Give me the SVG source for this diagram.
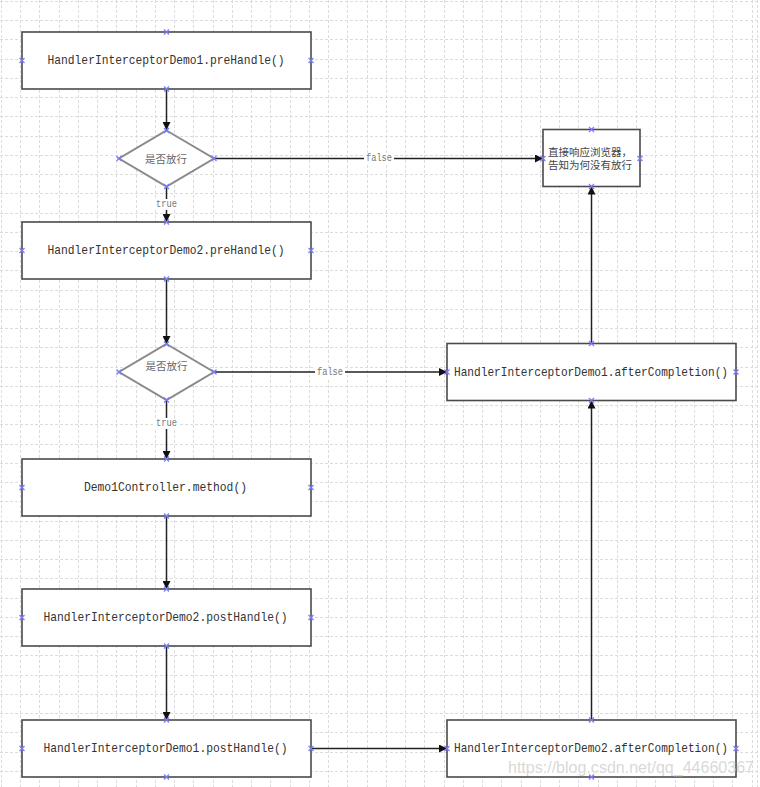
<svg xmlns="http://www.w3.org/2000/svg" width="760" height="787" viewBox="0 0 760 787">
<defs>
<style>
.grid{stroke:#dcdcdc;stroke-width:1;stroke-dasharray:3 2;fill:none}
.box{fill:#ffffff;stroke:#4a4a4a;stroke-width:1.6}
.dia{fill:#ffffff;stroke:#8a8a8a;stroke-width:2}
.txt{font-family:"Liberation Mono",monospace;font-size:13px;fill:#333333;text-anchor:middle;dominant-baseline:central}
.cjk{font-family:"Noto Sans CJK SC",sans-serif;font-size:10.5px;fill:#666666;text-anchor:middle;dominant-baseline:central}
.cjk2{font-family:"Noto Sans CJK SC",sans-serif;font-size:10px;fill:#444444;dominant-baseline:central}
.edge{stroke:#222222;stroke-width:1.5;fill:none;marker-end:url(#arr)}
.lbl{font-family:"Liberation Mono",monospace;font-size:10px;fill:#777777;text-anchor:middle;dominant-baseline:central}
.lblbg{fill:#ffffff}
.pt{stroke:#7a7aff;stroke-width:1.2;fill:none}
.wm{font-family:"Liberation Sans",Arial,sans-serif;font-size:17px;fill:#d4d4d4;fill-opacity:0.9}
</style>
<marker id="arr" viewBox="0 0 10 10" refX="10" refY="5" markerWidth="8" markerHeight="8" markerUnits="userSpaceOnUse" orient="auto">
<path d="M0,0 L10,5 L0,10 z" fill="#111111"/>
</marker>
<symbol id="x" viewBox="-3 -3 6 6" width="6" height="6" overflow="visible">
<path class="pt" d="M-2.5,-2.5 L2.5,2.5 M-2.5,2.5 L2.5,-2.5"/>
</symbol>
</defs>
<rect x="0" y="0" width="760" height="787" fill="#ffffff"/>
<g id="grid">
<path class="grid" d="M1.5 0V787M20.5 0V787M39.5 0V787M59.5 0V787M78.5 0V787M97.5 0V787M116.5 0V787M136.5 0V787M155.5 0V787M174.5 0V787M193.5 0V787M213.5 0V787M232.5 0V787M251.5 0V787M270.5 0V787M290.5 0V787M309.5 0V787M328.5 0V787M347.5 0V787M367.5 0V787M386.5 0V787M405.5 0V787M424.5 0V787M444.5 0V787M463.5 0V787M482.5 0V787M501.5 0V787M521.5 0V787M540.5 0V787M559.5 0V787M578.5 0V787M598.5 0V787M617.5 0V787M636.5 0V787M655.5 0V787M675.5 0V787M694.5 0V787M713.5 0V787M732.5 0V787M752.5 0V787M757.5 0V787"/>
<path class="grid" d="M0 1.5H758M0 20.5H758M0 39.5H758M0 59.5H758M0 78.5H758M0 97.5H758M0 116.5H758M0 136.5H758M0 155.5H758M0 174.5H758M0 193.5H758M0 213.5H758M0 232.5H758M0 251.5H758M0 270.5H758M0 290.5H758M0 309.5H758M0 328.5H758M0 347.5H758M0 367.5H758M0 386.5H758M0 405.5H758M0 424.5H758M0 444.5H758M0 463.5H758M0 482.5H758M0 501.5H758M0 521.5H758M0 540.5H758M0 559.5H758M0 578.5H758M0 598.5H758M0 617.5H758M0 636.5H758M0 655.5H758M0 675.5H758M0 694.5H758M0 713.5H758M0 732.5H758M0 752.5H758M0 771.5H758"/>
</g>
<g id="connectors">
<line class="edge" x1="166.5" y1="89" x2="166.5" y2="130"/>
<line class="edge" x1="166.5" y1="186.5" x2="166.5" y2="222"/>
<line class="edge" x1="214" y1="158.5" x2="543" y2="158.5"/>
<line class="edge" x1="166.5" y1="279" x2="166.5" y2="344"/>
<line class="edge" x1="166.5" y1="400" x2="166.5" y2="459"/>
<line class="edge" x1="214" y1="372" x2="447" y2="372"/>
<line class="edge" x1="591.5" y1="343.5" x2="591.5" y2="186.5"/>
<line class="edge" x1="166.5" y1="516" x2="166.5" y2="589"/>
<line class="edge" x1="166.5" y1="646" x2="166.5" y2="720"/>
<line class="edge" x1="311" y1="748.5" x2="447" y2="748.5"/>
<line class="edge" x1="591.5" y1="720" x2="591.5" y2="400.5"/>
<rect class="lblbg" x="155" y="199" width="23" height="11"/>
<text class="lbl" x="166.5" y="204.5" textLength="21" lengthAdjust="spacingAndGlyphs">true</text>
<rect class="lblbg" x="364" y="153" width="30" height="11"/>
<text class="lbl" x="379" y="158.5" textLength="26" lengthAdjust="spacingAndGlyphs">false</text>
<rect class="lblbg" x="155" y="418" width="23" height="11"/>
<text class="lbl" x="166.5" y="423.5" textLength="21" lengthAdjust="spacingAndGlyphs">true</text>
<rect class="lblbg" x="315" y="367" width="30" height="11"/>
<text class="lbl" x="330" y="372" textLength="26" lengthAdjust="spacingAndGlyphs">false</text>
</g>
<g id="n1">
<rect class="box" x="22" y="32" width="289" height="57"/>
<text class="txt" x="166" y="60.5" textLength="237" lengthAdjust="spacingAndGlyphs">HandlerInterceptorDemo1.preHandle()</text>
<use href="#x" x="163.5" y="29"/><use href="#x" x="163.5" y="86"/><use href="#x" x="19" y="57.5"/><use href="#x" x="308" y="57.5"/>
</g>
<g id="d1">
<polygon class="dia" points="166.5,130.5 214,158.5 166.5,186.5 119,158.5"/>
<text class="cjk" x="166" y="158.5">是否放行</text>
<use href="#x" x="163.5" y="127.5"/><use href="#x" x="163.5" y="183.5"/><use href="#x" x="116" y="155.5"/><use href="#x" x="211" y="155.5"/>
</g>
<g id="n2">
<rect class="box" x="543" y="129.5" width="97" height="57"/>
<text class="cjk2" x="548" y="151" textLength="84" lengthAdjust="spacingAndGlyphs">直接响应浏览器，</text>
<text class="cjk2" x="548" y="164" textLength="84" lengthAdjust="spacingAndGlyphs">告知为何没有放行</text>
<use href="#x" x="588.5" y="126.5"/><use href="#x" x="588.5" y="183.5"/><use href="#x" x="540" y="155.5"/><use href="#x" x="637" y="155.5"/>
</g>
<g id="n3">
<rect class="box" x="22" y="222" width="289" height="57"/>
<text class="txt" x="166" y="250.5" textLength="237" lengthAdjust="spacingAndGlyphs">HandlerInterceptorDemo2.preHandle()</text>
<use href="#x" x="163.5" y="219"/><use href="#x" x="163.5" y="276"/><use href="#x" x="19" y="247.5"/><use href="#x" x="308" y="247.5"/>
</g>
<g id="d2">
<polygon class="dia" points="166.5,344 214,372 166.5,400 119,372"/>
<text class="cjk" x="166.5" y="365">是否放行</text>
<use href="#x" x="163.5" y="341"/><use href="#x" x="163.5" y="397"/><use href="#x" x="116" y="369"/><use href="#x" x="211" y="369"/>
</g>
<g id="n4">
<rect class="box" x="447" y="343.5" width="289" height="57"/>
<text class="txt" x="591" y="372" textLength="274" lengthAdjust="spacingAndGlyphs">HandlerInterceptorDemo1.afterCompletion()</text>
<use href="#x" x="588.5" y="340.5"/><use href="#x" x="588.5" y="397.5"/><use href="#x" x="444" y="369"/><use href="#x" x="733" y="369"/>
</g>
<g id="n5">
<rect class="box" x="22" y="459" width="289" height="57"/>
<text class="txt" x="165.5" y="487" textLength="163" lengthAdjust="spacingAndGlyphs">Demo1Controller.method()</text>
<use href="#x" x="163.5" y="456"/><use href="#x" x="163.5" y="513"/><use href="#x" x="19" y="484.5"/><use href="#x" x="308" y="484.5"/>
</g>
<g id="n6">
<rect class="box" x="22" y="589" width="289" height="57"/>
<text class="txt" x="165.5" y="617.5" textLength="244" lengthAdjust="spacingAndGlyphs">HandlerInterceptorDemo2.postHandle()</text>
<use href="#x" x="163.5" y="586"/><use href="#x" x="163.5" y="643"/><use href="#x" x="19" y="614.5"/><use href="#x" x="308" y="614.5"/>
</g>
<g id="n7">
<rect class="box" x="22" y="720" width="289" height="57"/>
<text class="txt" x="165.5" y="748.5" textLength="244" lengthAdjust="spacingAndGlyphs">HandlerInterceptorDemo1.postHandle()</text>
<use href="#x" x="163.5" y="717"/><use href="#x" x="163.5" y="774"/><use href="#x" x="19" y="745.5"/><use href="#x" x="308" y="745.5"/>
</g>
<g id="n8">
<rect class="box" x="447" y="720" width="289" height="57"/>
<text class="txt" x="591" y="748.5" textLength="274" lengthAdjust="spacingAndGlyphs">HandlerInterceptorDemo2.afterCompletion()</text>
<use href="#x" x="588.5" y="717"/><use href="#x" x="588.5" y="774"/><use href="#x" x="444" y="745.5"/><use href="#x" x="733" y="745.5"/>
</g>
<text class="wm" x="508" y="773" textLength="246" lengthAdjust="spacingAndGlyphs">https://blog.csdn.net/qq_44660367</text>
</svg>
